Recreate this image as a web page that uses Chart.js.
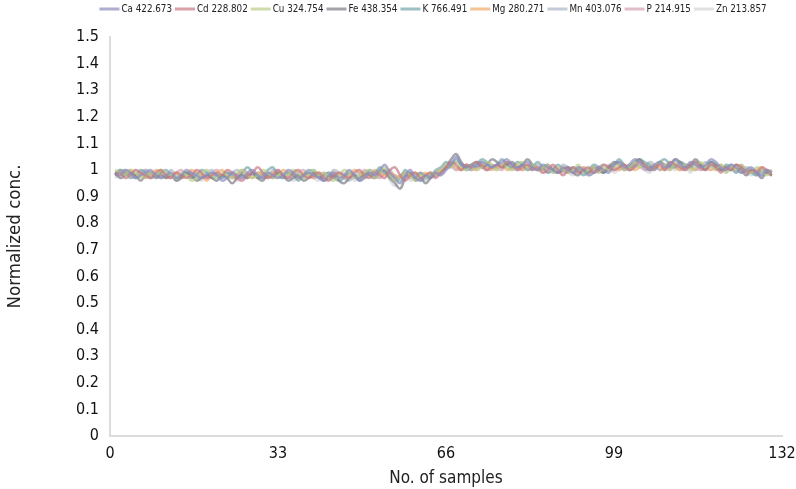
<!DOCTYPE html>
<html>
<head>
<meta charset="utf-8">
<script src="https://cdn.jsdelivr.net/npm/chart.js@4/dist/chart.umd.min.js"></script>
<style>
  html, body { margin: 0; padding: 0; background: #ffffff; }
  #wrap { width: 796px; height: 489px; }
</style>
</head>
<body>
<div id="wrap"><canvas id="c" width="796" height="489"></canvas></div>
<script>
// Normalized concentration per element line, samples 1..130
const seriesNames = ['Ca 422.673','Cd 228.802','Cu 324.754','Fe 438.354','K 766.491','Mg 280.271','Mn 403.076','P 214.915','Zn 213.857'];

const ca = [
0.99,0.98,1.00,0.99,0.97,0.98,0.99,1.00,0.98,0.97,
0.98,0.99,0.97,0.98,1.00,0.99,0.98,0.97,0.98,0.99,
0.98,0.96,0.97,0.99,0.98,0.97,0.99,1.00,0.98,0.97,
0.99,0.98,0.97,0.98,1.00,0.99,0.97,0.98,0.99,0.98,
0.97,0.96,0.98,0.99,0.97,0.98,1.00,0.98,0.96,0.97,
0.99,0.98,1.00,1.02,0.99,0.97,0.95,0.98,1.00,0.97,
0.96,0.98,0.97,0.99,0.98,1.00,1.02,1.05,1.02,1.01,
1.02,1.01,1.03,1.02,1.01,1.02,1.03,1.04,1.02,1.01,
1.02,1.03,1.01,1.00,1.02,1.01,1.00,0.99,1.01,1.00,
0.99,1.01,1.00,0.98,0.99,1.01,1.00,0.99,1.02,1.03,
1.01,1.02,1.04,1.03,1.01,1.00,1.02,1.03,1.01,1.02,
1.04,1.02,1.01,1.03,1.02,1.01,1.02,1.04,1.03,1.01,
1.00,1.02,1.01,0.99,1.00,1.01,0.99,0.98,1.00,0.99];

const cd = [
0.98,0.99,0.97,0.98,1.00,0.99,0.98,0.97,0.99,1.00,
0.98,0.97,0.99,0.98,0.97,0.98,1.00,0.99,0.97,0.98,
0.99,0.98,1.00,0.99,0.97,0.96,0.98,0.99,1.01,0.99,
0.97,0.98,1.00,0.98,0.97,0.99,1.00,0.98,0.97,0.98,
0.99,0.97,0.96,0.98,0.99,0.98,0.97,0.99,1.00,0.98,
0.97,0.99,0.98,0.97,1.00,1.01,0.98,0.96,0.98,0.99,
0.97,0.98,0.99,0.97,0.99,1.01,1.03,1.02,1.00,1.02,
1.01,1.03,1.02,1.00,1.01,1.02,1.01,1.03,1.02,1.00,
1.01,1.02,1.00,1.01,0.99,1.00,1.02,1.00,0.98,1.00,
1.01,0.99,1.00,1.01,0.99,1.00,1.02,1.01,1.00,1.01,
1.02,1.00,1.01,1.03,1.02,1.00,1.01,1.02,1.00,1.03,
1.02,1.01,1.00,1.02,1.03,1.01,1.00,1.02,1.01,0.99,
1.01,1.00,1.02,1.01,0.99,1.00,0.99,1.01,1.00,0.98];

const cu = [
1.00,0.99,0.98,1.00,0.99,0.97,0.98,0.99,0.98,1.00,
0.99,0.98,0.97,0.99,0.98,0.96,0.97,0.99,1.00,0.98,
0.97,0.99,0.98,0.97,0.99,1.00,0.98,0.97,0.98,1.00,
0.99,0.97,0.98,0.99,0.98,1.00,0.99,0.97,0.98,1.00,
0.98,0.99,0.97,0.96,0.98,1.00,0.99,0.97,0.98,0.99,
1.00,0.97,0.99,1.01,0.98,0.96,0.97,0.99,0.98,0.96,
0.98,0.97,0.99,0.98,1.00,1.02,1.01,1.03,1.01,1.00,
1.02,1.00,1.01,1.03,1.02,1.00,1.02,1.01,1.00,1.02,
1.03,1.01,1.02,1.00,1.01,1.02,0.99,1.01,1.00,0.99,
1.00,1.02,0.99,1.00,1.01,0.99,1.01,1.00,1.01,1.02,
1.00,1.01,1.03,1.01,1.02,1.00,1.01,1.03,1.02,1.00,
1.03,1.01,1.02,1.00,1.01,1.03,1.01,1.02,1.00,1.02,
0.99,1.01,1.00,1.02,1.00,0.99,1.01,1.00,0.98,1.00];

const fe = [
0.99,0.97,0.98,0.99,0.98,0.96,0.98,0.99,0.97,0.98,
0.97,0.98,0.96,0.97,0.99,0.98,0.96,0.97,0.98,0.97,
0.96,0.98,0.97,0.95,0.97,0.98,0.97,0.99,0.97,0.96,
0.98,0.97,0.99,0.98,0.96,0.97,0.98,0.96,0.97,0.99,
0.98,0.96,0.97,0.98,0.96,0.95,0.97,0.98,0.97,0.99,
0.98,0.97,0.99,1.00,0.97,0.95,0.93,0.97,0.99,0.96,
0.97,0.95,0.97,0.98,0.99,1.01,1.04,1.06,1.03,1.01,
1.02,1.03,1.01,1.02,1.04,1.03,1.01,1.02,1.03,1.01,
1.02,1.04,1.02,1.00,1.01,1.02,1.00,0.99,1.00,1.01,
0.99,0.98,1.00,0.99,1.01,1.00,0.99,1.01,1.03,1.02,
1.00,1.01,1.03,1.04,1.02,1.01,1.00,1.03,1.02,1.01,
1.04,1.03,1.01,1.02,1.04,1.02,1.00,1.03,1.02,1.00,
1.01,1.00,1.02,1.00,0.98,1.00,0.99,0.97,0.99,0.98];

const k = [
0.98,1.00,0.99,0.97,0.98,1.00,0.99,0.97,0.98,0.99,
1.00,0.98,0.97,0.98,0.99,0.97,0.98,1.00,0.99,0.97,
0.98,0.97,0.99,0.98,0.97,0.99,1.01,0.99,0.97,0.98,
1.00,1.01,0.98,0.97,0.99,0.98,0.96,0.98,1.00,0.99,
0.97,0.98,0.99,0.97,0.96,0.97,0.99,0.98,0.96,0.98,
1.00,0.99,1.01,0.99,0.98,0.96,0.97,1.00,0.98,0.97,
0.99,0.97,0.98,1.00,1.01,1.03,1.02,1.04,1.02,1.00,
1.01,1.02,1.04,1.03,1.01,1.02,1.04,1.02,1.01,1.03,
1.02,1.00,1.01,1.03,1.01,0.99,1.00,1.02,1.00,0.99,
1.01,1.00,0.98,1.00,1.02,1.01,0.99,1.01,1.02,1.04,
1.02,1.01,1.02,1.04,1.03,1.02,1.01,1.03,1.04,1.02,
1.01,1.03,1.02,1.01,1.03,1.02,1.01,1.03,1.01,1.00,
1.02,1.01,0.99,1.01,1.00,0.99,0.98,1.00,0.99,0.98];

const mg = [
0.99,0.98,0.99,1.00,0.98,0.99,0.97,0.98,1.00,0.99,
0.97,0.98,0.99,0.97,0.98,1.00,0.99,0.98,0.96,0.98,
0.99,1.00,0.98,0.97,0.98,0.99,0.98,0.97,0.99,0.98,
0.97,0.99,0.98,1.00,0.99,0.98,0.97,0.99,0.98,0.97,
0.99,0.98,0.97,0.99,0.98,0.97,0.98,1.00,0.99,0.97,
0.98,1.00,0.99,0.98,0.99,0.98,0.97,0.99,0.98,0.99,
0.98,0.99,0.98,0.99,1.00,1.01,1.02,1.01,1.00,1.02,
1.01,1.00,1.02,1.01,1.00,1.01,1.02,1.00,1.01,1.02,
1.00,1.01,1.02,1.01,1.00,1.01,1.00,0.99,1.01,1.00,
0.99,1.00,1.01,0.99,1.00,1.01,1.00,1.00,1.01,1.00,
1.01,1.02,1.00,1.01,1.02,1.00,1.02,1.01,1.00,1.02,
1.01,1.00,1.02,1.01,1.00,1.02,1.01,1.00,1.01,1.02,
1.00,1.01,1.00,1.01,1.00,0.99,1.00,1.01,0.99,1.00];

const mn = [
0.98,0.99,1.00,0.98,0.97,0.99,1.00,0.98,0.99,0.97,
0.98,1.00,0.98,0.97,0.98,0.99,0.97,0.98,0.99,1.00,
0.98,0.97,0.98,0.99,1.00,0.98,0.97,0.99,0.98,0.99,
0.98,1.00,0.99,0.97,0.98,0.99,0.98,0.97,0.99,1.00,
0.98,0.97,0.98,1.00,0.99,0.97,0.96,0.98,0.99,0.98,
0.99,0.98,1.00,0.99,0.97,0.98,0.96,0.98,0.99,0.98,
0.96,0.97,0.99,0.98,1.00,1.02,1.01,1.03,1.02,1.01,
1.00,1.02,1.03,1.01,1.02,1.01,1.02,1.03,1.01,1.00,
1.02,1.01,1.00,1.02,1.00,1.01,0.99,1.00,1.02,1.01,
1.00,0.99,1.01,1.00,0.99,1.01,1.02,1.00,1.01,1.03,
1.02,1.00,1.01,1.02,1.01,1.03,1.02,1.00,1.01,1.03,
1.02,1.00,1.01,1.02,1.00,1.01,1.03,1.01,1.02,1.00,
1.01,1.02,1.00,0.99,1.01,1.00,0.98,0.99,1.00,0.99];

const p = [
0.99,1.00,0.98,0.99,0.97,0.98,1.00,0.99,0.98,0.99,
0.98,0.97,0.99,1.00,0.98,0.97,0.99,0.98,0.97,0.99,
1.00,0.98,0.99,0.97,0.98,1.00,0.99,0.98,0.99,0.97,
0.98,0.99,1.00,0.98,0.97,0.98,0.99,1.00,0.98,0.97,
0.98,0.99,0.98,0.97,0.99,0.98,0.99,0.97,0.98,1.00,
0.99,0.98,0.97,0.99,1.00,0.97,0.98,0.99,0.97,0.98,
0.99,0.98,0.97,0.99,1.00,1.01,1.02,1.00,1.01,1.02,
1.00,1.02,1.01,1.00,1.02,1.01,1.00,1.02,1.01,1.01,
1.00,1.02,1.01,1.00,1.01,0.99,1.01,1.00,0.99,1.01,
1.00,1.01,0.99,1.00,1.01,1.00,0.99,1.02,1.00,1.01,
1.02,1.00,1.01,1.02,1.00,1.01,1.02,1.00,1.01,1.00,
1.02,1.01,1.00,1.01,1.02,1.00,1.01,1.02,1.00,1.01,
1.00,1.01,1.00,1.02,1.00,0.99,1.00,0.99,1.00,0.99];

const zn = [
0.97,0.98,0.99,0.98,1.00,0.98,0.97,0.99,0.98,0.97,
0.99,0.98,0.96,0.98,0.99,0.98,0.97,0.96,0.98,0.99,
0.97,0.98,0.99,0.98,0.96,0.97,0.98,0.99,0.98,0.97,
0.99,0.98,0.97,0.99,0.98,0.96,0.97,0.98,0.99,0.97,
0.96,0.98,0.99,0.98,0.97,0.99,0.98,0.96,0.97,0.98,
0.99,0.97,0.98,0.99,0.96,0.94,0.97,0.98,0.96,0.97,
0.98,0.96,0.98,0.99,0.98,1.00,1.01,1.00,1.02,1.01,
1.00,1.01,1.02,1.00,1.01,1.00,1.02,1.01,1.00,1.01,
1.02,1.00,1.01,1.00,0.99,1.00,1.01,0.99,1.00,0.99,
0.98,1.00,0.99,0.98,1.00,0.99,1.00,1.01,0.99,1.00,
1.01,1.00,1.02,1.01,1.00,0.99,1.01,1.02,1.00,1.01,
1.00,1.02,1.01,0.99,1.01,1.00,1.01,1.00,1.02,1.00,
0.99,1.00,0.99,1.01,0.99,0.98,0.99,0.98,0.99,0.98];

const seriesValues = [ca, cd, cu, fe, k, mg, mn, p, zn];
const xTicks = [0, 33, 66, 99, 132];
const yMin = 0, yMax = 1.5, yStep = 0.1;

const lineColors = [
  'rgba(140,140,190,0.7)',
  'rgba(200,120,130,0.7)',
  'rgba(185,205,135,0.7)',
  'rgba(125,125,135,0.7)',
  'rgba(115,165,170,0.7)',
  'rgba(240,170,105,0.7)',
  'rgba(170,182,200,0.7)',
  'rgba(215,160,180,0.7)',
  'rgba(212,212,218,0.7)'
];

const condensed = '"DejaVu Sans Condensed", "Liberation Sans Narrow", "Roboto", sans-serif';

const datasets = seriesNames.map((name, i) => ({
  label: name,
  data: seriesValues[i].map((v, j) => ({ x: j + 1, y: v })),
  borderColor: lineColors[i],
  backgroundColor: lineColors[i],
  borderWidth: 2.5,
  pointRadius: 0,
  tension: 0.4,
  fill: false
}));

// One-row legend of short line swatches, centred slightly left of the plot centre
const lineLegend = {
  id: 'lineLegend',
  afterDraw(chart, args, opts) {
    const ctx = chart.ctx;
    const fontSize = opts.fontSize;
    ctx.save();
    ctx.font = fontSize + 'px ' + condensed;
    ctx.textBaseline = 'middle';
    const items = chart.data.datasets.map(ds => ({
      text: ds.label, color: ds.borderColor, w: ctx.measureText(ds.label).width
    }));
    const itemW = it => opts.swatch + opts.gap + it.w;
    const total = items.reduce((s, it) => s + itemW(it), 0) + opts.spacing * (items.length - 1);
    let x = opts.centerX - total / 2;
    const y = opts.y;
    items.forEach(it => {
      ctx.fillStyle = it.color;
      ctx.fillRect(x, y - 1.5, opts.swatch, 3);
      ctx.fillStyle = '#222';
      ctx.fillText(it.text, x + opts.swatch + opts.gap, y);
      x += itemW(it) + opts.spacing;
    });
    ctx.restore();
  }
};

new Chart(document.getElementById('c'), {
  type: 'line',
  data: { datasets },
  plugins: [lineLegend],
  options: {
    responsive: false,
    animation: false,
    events: [],
    layout: { padding: { top: 37, right: 0, left: 0, bottom: 0 } },
    plugins: {
      tooltip: { enabled: false },
      legend: { display: false },
      lineLegend: { fontSize: 9.75, swatch: 20, gap: 2, spacing: 3, centerX: 433, y: 9 }
    },
    scales: {
      x: {
        type: 'linear',
        min: 0,
        max: 132,
        afterBuildTicks: (s) => { s.ticks = xTicks.map(v => ({ value: v })); },
        grid: { display: false, drawTicks: false },
        border: { display: true, color: '#dcdcdc', width: 2 },
        ticks: {
          color: '#111',
          padding: 8,
          maxRotation: 0,
          font: { family: condensed, size: 16 }
        },
        title: {
          display: true,
          text: 'No. of samples',
          color: '#222',
          padding: { top: 0, bottom: 0 },
          font: { family: condensed, size: 17 }
        },
        afterFit: (s) => { s.height = 53; s.paddingRight = 14; }
      },
      y: {
        min: yMin,
        max: yMax,
        grid: { display: false, drawTicks: false },
        border: { display: true, color: '#dcdcdc', width: 2 },
        ticks: {
          stepSize: yStep,
          color: '#111',
          padding: 11,
          font: { family: condensed, size: 16 },
          callback: (v) => String(Math.round(v * 10) / 10)
        },
        title: {
          display: true,
          text: 'Normalized conc.',
          color: '#222',
          padding: { top: 4, bottom: 4 },
          font: { family: condensed, size: 18.5 }
        },
        afterFit: (s) => { s.width = 110; }
      }
    }
  }
});
</script>
</body>
</html>
